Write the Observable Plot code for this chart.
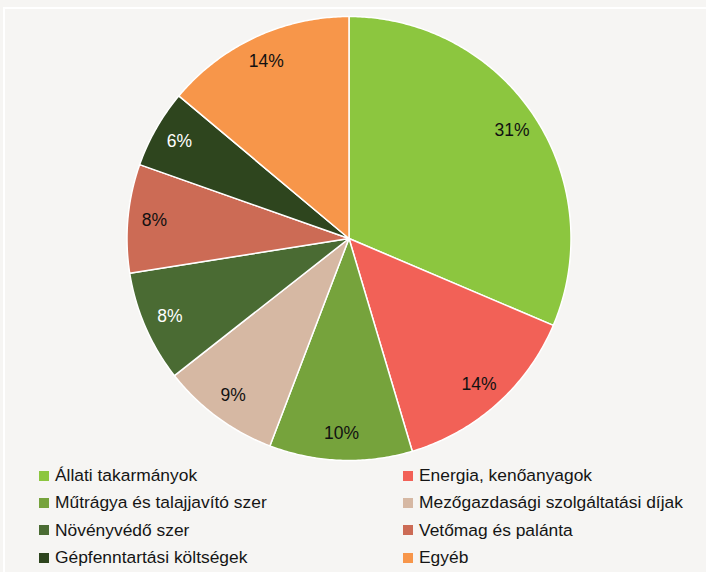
<!DOCTYPE html>
<html>
<head>
<meta charset="utf-8">
<script src="https://cdn.jsdelivr.net/npm/d3@7"></script>
<script src="https://cdn.jsdelivr.net/npm/@observablehq/plot@0.6"></script>
<style>
  html, body { margin: 0; padding: 0; background: #f6f5f3; }
  body { width: 706px; height: 572px; position: relative; overflow: hidden; font-family: "Liberation Sans", Arial, sans-serif; }
  #frame { position: absolute; left: 3px; top: 7px; right: -10px; bottom: -10px; border-top: 2px solid #ffffff; border-left: 2px solid #ffffff; }
  #chart { position: absolute; left: 0; top: 0; }
  #legend { position: absolute; left: 39px; top: 462px; display: grid; grid-template-columns: 364px auto; font-size: 17.4px; color: #151515; }
  .item { height: 27.3px; display: flex; align-items: center; white-space: nowrap; }
  .sw { width: 10px; height: 10px; margin-right: 6px; flex: none; }
</style>
</head>
<body>
<div id="frame"></div>
<div id="chart"></div>
<div id="legend"></div>
<script>
const categories = ["Állati takarmányok", "Energia, kenőanyagok", "Műtrágya és talajjavító szer", "Mezőgazdasági szolgáltatási díjak", "Növényvédő szer", "Vetőmag és palánta", "Gépfenntartási költségek", "Egyéb"];
const values = [31.4, 14.0, 10.4, 8.6, 8.1, 7.9, 5.7, 13.9];
const labels = ["31%", "14%", "10%", "9%", "8%", "8%", "6%", "14%"];
const colors = ["#8cc63f", "#f26157", "#76a33c", "#d6b8a3", "#4a6b33", "#cc6b55", "#2e451e", "#f7964a"];
const labelColors = ["#111111", "#111111", "#111111", "#111111", "#ffffff", "#111111", "#ffffff", "#111111"];

const data = categories.map((c, i) => ({cat: c, value: values[i], label: labels[i], lc: labelColors[i]}));
const arcs = d3.pie().sort(null).value(d => d.value)(data);

// slice outlines (polygon sampled along the arc), built from the data
const pts = [];
arcs.forEach(a => {
  const n = Math.max(2, Math.ceil((a.endAngle - a.startAngle) / 0.01));
  pts.push({cat: a.data.cat, x: 0, y: 0});
  for (let k = 0; k <= n; k++) {
    const t = a.startAngle + (a.endAngle - a.startAngle) * k / n;
    pts.push({cat: a.data.cat, x: Math.sin(t), y: Math.cos(t)});
  }
  pts.push({cat: a.data.cat, x: 0, y: 0});
});

const lr = 0.88;
const labelData = arcs.map(a => {
  const m = (a.startAngle + a.endAngle) / 2;
  return {x: lr * Math.sin(m), y: lr * Math.cos(m), label: a.data.label, lc: a.data.lc};
});

const plot = Plot.plot({
  width: 706,
  height: 462,
  x: {domain: [-1, 1], range: [126.5, 570.5], axis: null},
  y: {domain: [-1, 1], range: [460, 16], axis: null},
  color: {domain: categories, range: colors},
  style: {background: "transparent", fontFamily: "Liberation Sans, Arial, sans-serif"},
  marks: [
    Plot.line(pts, {x: "x", y: "y", z: "cat", fill: "cat", stroke: "#ffffff", strokeWidth: 1.5, strokeLinejoin: "round", curve: "linear"}),
    Plot.text(labelData.filter(d => d.lc === "#111111"), {x: "x", y: "y", text: "label", fill: "#111111", fontSize: 17.5}),
    Plot.text(labelData.filter(d => d.lc === "#ffffff"), {x: "x", y: "y", text: "label", fill: "#ffffff", fontSize: 17.5})
  ]
});
document.getElementById("chart").appendChild(plot);

const legend = document.getElementById("legend");
categories.forEach((c, i) => {
  const it = document.createElement("div");
  it.className = "item";
  const sw = document.createElement("span");
  sw.className = "sw";
  sw.style.background = colors[i];
  const tx = document.createElement("span");
  tx.textContent = c;
  it.appendChild(sw);
  it.appendChild(tx);
  legend.appendChild(it);
});
</script>
</body>
</html>
